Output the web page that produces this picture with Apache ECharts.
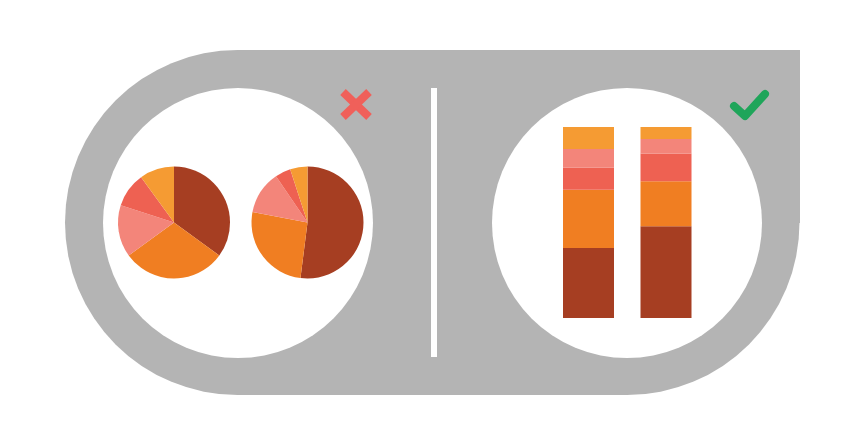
<!DOCTYPE html>
<html>
<head>
<meta charset="utf-8">
<script src="https://cdn.jsdelivr.net/npm/echarts@6/dist/echarts.min.js"></script>
<style>
  html, body { margin: 0; padding: 0; background: #fff; }
  #chart { width: 866px; height: 446px; }
</style>
</head>
<body>
<div id="chart"></div>
<script>
// slice/segment names, bottom-to-top for bars, clockwise for pies
var parts = ['A', 'B', 'C', 'D', 'E'];
var partColors = ['#A63E22', '#F07E22', '#EE6152', '#F3857A', '#F59B33'];

// pies (clockwise from 12 o'clock): dark, orange, pink, red, yellow
var pieLeft = [35, 30, 15, 10, 10];
var pieRight = [52, 26, 12.5, 4.5, 5];
var pieOrder = [0, 1, 3, 2, 4]; // colour index per pie slice

// stacked bars: dark, orange, red, pink, yellow (bottom to top)
var barCats = ['1', '2'];
var barDark = [36.6, 48];
var barOrange = [30.6, 23.6];
var barRed = [11.4, 14.5];
var barPink = [9.9, 7.6];
var barYellow = [11.5, 6.3];

var chart = echarts.init(document.getElementById('chart'));

function pieData(vals) {
    return vals.map(function (v, i) {
        return { value: v, name: parts[i], itemStyle: { color: partColors[pieOrder[i]] } };
    });
}

function pieSeries(vals, cx) {
    return {
        type: 'pie',
        center: [cx, 222.5],
        radius: 56,
        startAngle: 90,
        clockwise: true,
        silent: true,
        label: { show: false },
        labelLine: { show: false },
        itemStyle: { borderWidth: 0 },
        data: pieData(vals),
        z: 5
    };
}

function barSeries(vals, color) {
    return {
        type: 'bar',
        stack: 'total',
        barWidth: 51,
        silent: true,
        itemStyle: { color: color },
        data: vals,
        z: 5
    };
}

var grey = '#B4B4B4';

chart.setOption({
    animation: false,
    backgroundColor: '#ffffff',
    graphic: [
        // grey backdrop: round left end, round bottom-right, square top-right
        { type: 'circle', z: 0, shape: { cx: 237.5, cy: 222.5, r: 172.5 }, style: { fill: grey } },
        { type: 'circle', z: 0, shape: { cx: 627, cy: 222.5, r: 172.5 }, style: { fill: grey } },
        { type: 'rect', z: 0, shape: { x: 237, y: 50, width: 391, height: 345 }, style: { fill: grey } },
        { type: 'rect', z: 0, shape: { x: 626, y: 50, width: 174, height: 173 }, style: { fill: grey } },
        { type: 'circle', z: 1, shape: { cx: 238, cy: 223, r: 135 }, style: { fill: '#ffffff' } },
        { type: 'circle', z: 1, shape: { cx: 627, cy: 223, r: 135 }, style: { fill: '#ffffff' } },
        { type: 'rect', z: 1, shape: { x: 431, y: 88, width: 6, height: 269 }, style: { fill: '#ffffff' } },
        // red cross
        { type: 'line', z: 1, shape: { x1: 343, y1: 92, x2: 369, y2: 117 }, style: { stroke: '#F0605A', lineWidth: 8 } },
        { type: 'line', z: 1, shape: { x1: 369, y1: 92, x2: 343, y2: 117 }, style: { stroke: '#F0605A', lineWidth: 8 } },
        // green tick
        {
            type: 'polyline', z: 1,
            shape: { points: [[734, 106], [745, 116], [765, 94]] },
            style: { stroke: '#1FA55A', lineWidth: 8, fill: null, lineCap: 'round', lineJoin: 'round' }
        }
    ],
    grid: { left: 549.75, top: 127, width: 155, height: 191 },
    xAxis: { type: 'category', data: barCats, show: false },
    yAxis: { type: 'value', min: 0, max: 100, show: false },
    series: [
        pieSeries(pieLeft, 174),
        pieSeries(pieRight, 307.5),
        barSeries(barDark, partColors[0]),
        barSeries(barOrange, partColors[1]),
        barSeries(barRed, partColors[2]),
        barSeries(barPink, partColors[3]),
        barSeries(barYellow, partColors[4])
    ]
});
</script>
</body>
</html>
